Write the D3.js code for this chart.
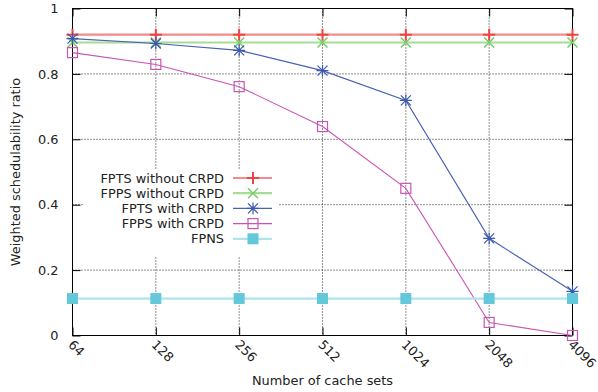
<!DOCTYPE html>
<html><head><meta charset="utf-8">
<script src="https://cdn.jsdelivr.net/npm/d3@7"></script>
<style>body{margin:0;background:#fff}text{font-family:"DejaVu Sans",sans-serif;fill:#222}</style>
</head><body><svg id="c" width="598" height="392"></svg>
<script>
const cacheSets = ["64","128","256","512","1024","2048","4096"];
const yTicks = [0,0.2,0.4,0.6,0.8,1];
const seriesNames = ["FPTS without CRPD","FPPS without CRPD","FPTS with CRPD","FPPS with CRPD","FPNS"];
const fptsNoCrpd = [0.92,0.92,0.92,0.92,0.92,0.92,0.92];
const fppsNoCrpd = [0.896,0.896,0.896,0.896,0.896,0.896,0.896];
const fptsCrpd = [0.908,0.893,0.872,0.81,0.719,0.297,0.135];
const fppsCrpd = [0.865,0.829,0.761,0.639,0.45,0.04,0.0];
const fpns = [0.113,0.113,0.113,0.113,0.113,0.113,0.113];

const FS = "12.9px";
const svg = d3.select("#c");
const L=72.5,R=572.5,T=8.5,B=335.5;
const x = d3.scalePoint().domain(cacheSets).range([L,R]);
const y = d3.scaleLinear().domain([0,1]).range([B,T]);

// grid
const g = svg.append("g");
g.selectAll(".gx").data(cacheSets.slice(1,-1)).join("line")
 .attr("x1",d=>x(d)).attr("x2",d=>x(d)).attr("y1",T).attr("y2",B)
 .attr("stroke","#222").attr("stroke-dasharray","1,2");
g.selectAll(".gy").data(yTicks.slice(1,-1)).join("line")
 .attr("x1",L).attr("x2",R).attr("y1",d=>y(d)).attr("y2",d=>y(d))
 .attr("stroke","#222").attr("stroke-dasharray","1,2");
// legend background
svg.append("rect").attr("x",84).attr("y",170).attr("width",194).attr("height",86).attr("fill","#fff");

// axes with inward ticks
const ax = svg.append("g");
ax.append("g").attr("transform",`translate(${L},0)`).call(d3.axisLeft(y).tickValues(yTicks).tickSize(-8).tickPadding(14).tickFormat(d=>d3.format("~g")(d)))
 .call(s=>{s.select(".domain").remove();s.selectAll("text").style("font-size",FS).attr("fill","#222");s.selectAll("line").attr("stroke","#000");});
ax.append("g").attr("transform",`translate(${R},0)`).call(d3.axisRight(y).tickValues(yTicks).tickSize(-8).tickFormat(""))
 .call(s=>{s.select(".domain").remove();s.selectAll("line").attr("stroke","#000");});
const bx = ax.append("g").attr("transform",`translate(0,${B})`).call(d3.axisBottom(x).tickSize(-8).tickFormat(""));
bx.select(".domain").remove(); bx.selectAll("line").attr("stroke","#000");
ax.append("g").attr("transform",`translate(0,${T})`).call(d3.axisTop(x).tickSize(-8).tickFormat(""))
 .call(s=>{s.select(".domain").remove();s.selectAll("line").attr("stroke","#000");});
svg.selectAll(".xl").data(cacheSets).join("text")
 .attr("transform",d=>`translate(${x(d)-5},${B+10}) rotate(45)`)
 .attr("text-anchor","start").style("font-size",FS).text(d=>d);
svg.append("rect").attr("x",L).attr("y",T).attr("width",R-L).attr("height",B-T).attr("fill","none").attr("stroke","#000");

svg.append("text").attr("x",(L+R)/2).attr("y",385).attr("text-anchor","middle").style("font-size",FS).text("Number of cache sets");
svg.append("text").attr("transform",`translate(20,${(T+B)/2}) rotate(-90)`).attr("text-anchor","middle").style("font-size",FS).text("Weighted schedulability ratio");

// marker shapes
function marker(sel,type,col,cx,cy){
  const s=sel.append("g").attr("transform",`translate(${cx},${cy})`);
  if(type==="plus"){s.append("path").attr("d","M-6,0H6M0,-6V6").attr("stroke",col).attr("stroke-width",2);}
  else if(type==="cross"){s.append("path").attr("d","M-5,-5L5,5M-5,5L5,-5").attr("stroke",col).attr("stroke-width",1.5);}
  else if(type==="star"){s.append("path").attr("d","M-5,-5L5,5M-5,5L5,-5M-6,0H6M0,-6V6").attr("stroke",col).attr("stroke-width",1.2);}
  else if(type==="osq"){s.append("rect").attr("x",-5).attr("y",-5).attr("width",10).attr("height",10).attr("fill","none").attr("stroke",col).attr("stroke-width",1.2);}
  else if(type==="fsq"){s.append("rect").attr("x",-5.5).attr("y",-5.5).attr("width",11).attr("height",11).attr("fill",col).attr("stroke","none");}
}
const series = [
 {vals:fptsNoCrpd,line:"#f28b8b",lw:2.2,mk:"plus",mc:"#ee4444"},
 {vals:fppsNoCrpd,line:"#a6dc94",lw:2.2,mk:"cross",mc:"#78cc66"},
 {vals:fptsCrpd,line:"#4a62b2",lw:1.2,mk:"star",mc:"#3c58b0"},
 {vals:fppsCrpd,line:"#c855b4",lw:1.1,mk:"osq",mc:"#c855b4"},
 {vals:fpns,line:"#aee4ec",lw:2.2,mk:"fsq",mc:"#62c8da"}
];
const line = d3.line().x((d,i)=>x(cacheSets[i])).y(d=>y(d));
const dg = svg.append("g");
series.forEach(s=>{
  dg.append("path").attr("d",line(s.vals)).attr("fill","none").attr("stroke",s.line).attr("stroke-width",s.lw);
  s.vals.forEach((v,i)=>marker(dg,s.mk,s.mc,x(cacheSets[i]),y(v)));
});
// legend
const lg = svg.append("g");
seriesNames.forEach((n,i)=>{
  const yy = 178 + i*15.2;
  const s = series[i];
  lg.append("text").attr("x",224).attr("y",yy+4.5).attr("text-anchor","end").style("font-size",FS).text(n);
  lg.append("line").attr("x1",233).attr("x2",272).attr("y1",yy).attr("y2",yy).attr("stroke",s.line).attr("stroke-width",s.lw);
  marker(lg,s.mk,s.mc,253,yy);
});
</script></body></html>
